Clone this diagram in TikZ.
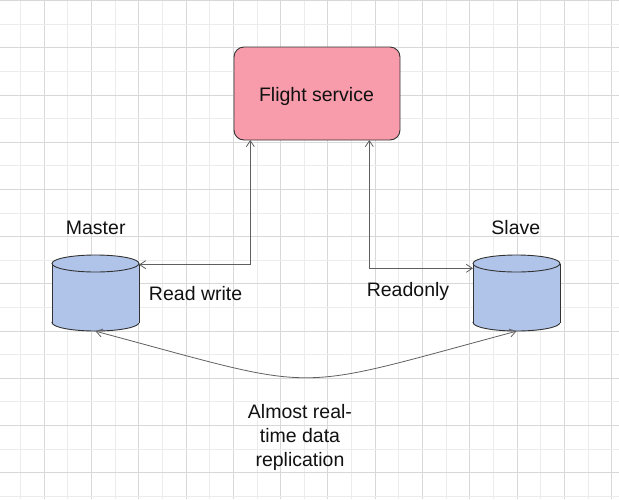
\documentclass[tikz,border=0pt]{standalone}
\usepackage{fontspec}
\setmainfont{Liberation Sans}
\usetikzlibrary{arrows.meta,calc}
\definecolor{pinkfill}{RGB}{248,156,171}
\definecolor{cylfill}{RGB}{176,196,234}
\definecolor{gridmaj}{RGB}{216,216,216}
\definecolor{gridmin}{RGB}{236,236,236}
\definecolor{edgecol}{RGB}{95,95,95}
\definecolor{strokecol}{RGB}{50,50,50}
\definecolor{txtcol}{RGB}{17,17,17}
\begin{document}
\begin{tikzpicture}[x=1pt,y=-1pt,
  lbl/.style={font=\fontsize{19.5}{24}\selectfont, inner sep=0pt, anchor=base, text=txtcol},
  tip/.tip={Straight Barb[length=6pt,width=8pt]},
  conn/.style={draw=edgecol, line width=0.8pt, tip-tip},
  cylbox/.style={rectangle, draw=none, minimum width=87pt, minimum height=76pt, inner sep=0pt},
  cylline/.style={draw=strokecol, line width=0.9pt},
  svcbox/.style={rectangle, rounded corners=10pt, draw=strokecol, line width=0.9pt, fill=pinkfill,
    minimum width=166pt, minimum height=93pt, inner sep=0pt}]
\useasboundingbox (0,0) rectangle (619,499);
% grid
\foreach \i in {0,...,26} {
  \pgfmathsetmacro{\gx}{20.66+23.64*\i}
  \pgfmathtruncatemacro{\odd}{mod(\i,2)}
  \ifnum\odd=1 \draw[gridmaj, line width=1pt] (\gx,0) -- (\gx,499);
  \else \draw[gridmin, line width=1pt] (\gx,0) -- (\gx,499); \fi
}
\foreach \j in {0,...,21} {
  \pgfmathsetmacro{\gy}{0.7+23.6*\j}
  \pgfmathtruncatemacro{\odd}{mod(\j,2)}
  \ifnum\odd=0 \draw[gridmaj, line width=1pt] (0,\gy) -- (619,\gy);
  \else \draw[gridmin, line width=1pt] (0,\gy) -- (619,\gy); \fi
}
% service box
\node[svcbox] (fs) at (317,93.5) {};
\node[lbl] (fst) at (316.5,101) {Flight service};
% cylinders
\foreach \cx/\nm in {95.5/m, 516.5/s} {
  \filldraw[cylline, fill=cylfill] (\cx,322.5) ellipse[x radius=43.5, y radius=8.5];
  \fill[cylfill] (\cx-43.5,263.5) rectangle (\cx+43.5,322.5);
  \draw[cylline] (\cx-43.5,263.5) -- (\cx-43.5,322.5) (\cx+43.5,263.5) -- (\cx+43.5,322.5);
  \filldraw[cylline, fill=cylfill] (\cx,263.5) ellipse[x radius=43.5, y radius=8.5];
}
\node[cylbox] (m) at (95.5,293) {};
\node[cylbox] (s) at (516.5,293) {};
% labels
\node[lbl] (mt) at (95.7,234.3) {Master};
\node[lbl] (st) at (515.8,234.3) {Slave};
\node[lbl] (rw) at (195.6,300) {Read write};
\node[lbl] (ro) at (408,296.7) {Readonly};
\node[lbl, align=center] (rep) at (300,466.7) {Almost real-\\time data\\replication};
% connectors
\coordinate (fsL) at (250.3,140);
\coordinate (fsR) at (369.3,140);
\coordinate (mR) at (139,264.7);
\coordinate (sL) at (473,268.3);
\draw[conn] (mR) -| (fsL);
\draw[conn] (sL) -| (fsR);
\draw[conn] (m.south) .. controls +(232,62) and +(-232,62) .. (s.south);
\end{tikzpicture}
\end{document}
